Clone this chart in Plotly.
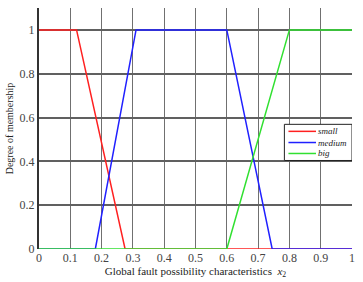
import plotly.graph_objects as go

# Membership functions (breakpoints)
names = ["small", "medium", "big"]
colors = ["#ff2020", "#2020ff", "#30e030"]
small_x = [0.0, 0.12, 0.275, 1.0]
small_y = [1, 1, 0, 0]
medium_x = [0.0, 0.18, 0.31, 0.6, 0.745, 1.0]
medium_y = [0, 0, 1, 1, 0, 0]
big_x = [0.0, 0.6, 0.8, 1.0]
big_y = [0, 0, 1, 1]

x_ticks = [0, 0.1, 0.2, 0.3, 0.4, 0.5, 0.6, 0.7, 0.8, 0.9, 1]
x_tick_labels = ["0", "0.1", "0.2", "0.3", "0.4", "0.5", "0.6", "0.7", "0.8", "0.9", "1"]
y_ticks = [0, 0.2, 0.4, 0.6, 0.8, 1]
y_tick_labels = ["0", "0.2", "0.4", "0.6", "0.8", "1"]

serif = "Liberation Serif, Times New Roman, serif"

fig = go.Figure()
series = [(small_x, small_y), (medium_x, medium_y), (big_x, big_y)]
for (xs, ys), n, c in zip(series, names, colors):
    fig.add_trace(go.Scatter(x=xs, y=ys, mode="lines", name=n,
                             line=dict(color=c, width=1.5), showlegend=False))

# custom compact legend drawn in data coordinates
fig.add_shape(type="rect", x0=0.784, x1=1.0, y0=0.404, y1=0.569,
              line=dict(color="#222", width=1), fillcolor="white", layer="above")
rows = [0.537, 0.486, 0.436]
for n, c, yy in zip(names, colors, rows):
    fig.add_shape(type="line", x0=0.797, x1=0.885, y0=yy, y1=yy,
                  line=dict(color=c, width=1.5), layer="above")
    fig.add_annotation(x=0.887, y=yy, text="<i>" + n + "</i>", showarrow=False,
                       xanchor="left", yanchor="middle", borderpad=0,
                       font=dict(family=serif, size=9, color="#222"))

fig.update_layout(
    width=363, height=282,
    margin=dict(l=39, r=11, t=8, b=33),
    paper_bgcolor="white", plot_bgcolor="white",
    font=dict(family=serif, color="#222"),
    xaxis=dict(range=[0, 1], tickvals=x_ticks, ticktext=x_tick_labels,
               showgrid=True, gridcolor="#707070", gridwidth=1.2,
               zeroline=False, showline=False, ticks="",
               tickfont=dict(size=12, family=serif, color="#444"),
               title=dict(text="Global fault possibility characteristics  <i>x</i><sub>2</sub>",
                          font=dict(size=11, family=serif, color="#222"), standoff=2)),
    yaxis=dict(range=[0, 1.1], tickvals=y_ticks, ticktext=y_tick_labels,
               showgrid=True, gridcolor="#606060", gridwidth=1.5,
               zeroline=False, showline=True, linecolor="#333", linewidth=2, ticks="",
               tickfont=dict(size=12, family=serif, color="#444"),
               title=dict(text="Degree of membership",
                          font=dict(size=10, family=serif, color="#222"), standoff=4)),
)

fig.write_html("out.html")
